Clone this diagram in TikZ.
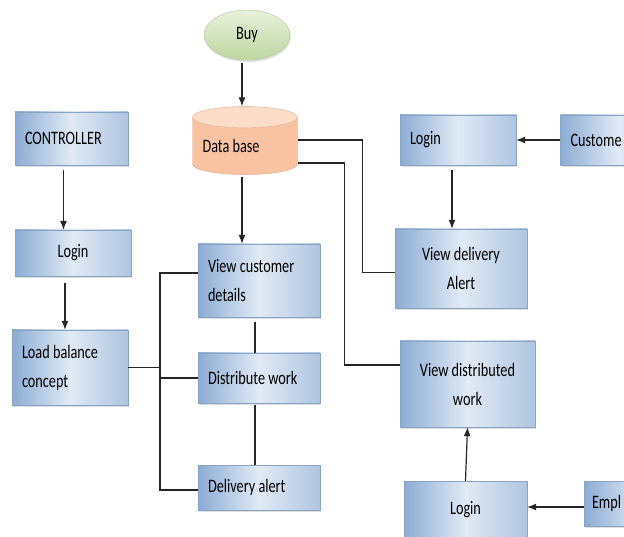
\documentclass[tikz,border=0pt]{standalone}
\usepackage{fontspec}
\setmainfont{Carlito}[FakeStretch=0.75]
\usetikzlibrary{shapes.geometric,shadows,arrows.meta}
\definecolor{boxdark}{RGB}{140,172,212}
\definecolor{boxlight}{RGB}{225,234,245}
\definecolor{dbdark}{RGB}{247,180,140}
\definecolor{dblight}{RGB}{252,222,200}
\definecolor{buydark}{RGB}{190,214,160}
\definecolor{buylight}{RGB}{232,241,220}
\begin{document}
\begin{tikzpicture}[x=1pt, y=-1pt,
    font=\fontsize{19}{29}\selectfont,
    box/.style={rectangle, draw=boxdark!80!gray, thin, left color=boxdark, right color=boxdark!70, middle color=boxlight,
        drop shadow={shadow xshift=1pt, shadow yshift=-2pt, fill=gray!50}, inner sep=0pt},
    link/.style={draw=black!85, line width=1.2pt},
    flow/.style={link, -{Latex[length=9pt, width=7pt]}}]
    \clip (0,0) rectangle (624,537);
    % Buy und Datenbank
    \node[ellipse, draw=buydark!80!gray, thin, top color=buylight, bottom color=buydark,
        drop shadow={shadow xshift=1pt, shadow yshift=-2pt, fill=gray!50},
        minimum width=86pt, minimum height=50pt, inner sep=0pt] (buy) at (247,35) {Buy};
    \node[cylinder, shape border rotate=90, aspect=0.25, draw=dbdark!80!gray, thin,
        cylinder uses custom fill, cylinder body fill=dbdark!80, cylinder end fill=dblight,
        minimum width=105pt, minimum height=68pt, inner sep=0pt,
        text width=85pt, align=flush left] (db) at (245,146) {Data base};
    % linke Spalte
    \node[box, minimum width=113pt, minimum height=53pt, text width=93pt, align=flush left] (controller) at (71.5,138.5) {CONTROLLER};
    \node[box, minimum width=116pt, minimum height=46pt, align=flush center] (loginL) at (73,253) {Login};
    \node[box, minimum width=116pt, minimum height=75pt, text width=96pt, align=flush left] (loadbal) at (70,367.5) {Load balance\\concept};
    % mittlere Spalte
    \node[box, minimum width=122pt, minimum height=73pt, text width=102pt, align=flush left] (viewcust) at (259,280.5) {View customer\\details};
    \node[box, minimum width=122pt, minimum height=50pt, text width=102pt, align=flush left] (distrib) at (259,378) {Distribute work};
    \node[box, minimum width=122pt, minimum height=45pt, text width=102pt, align=flush left] (delalert) at (259,487.5) {Delivery alert};
    % rechte Spalte
    \node[box, minimum width=116pt, minimum height=50pt, text width=96pt, align=flush left] (loginR) at (458,140) {Login};
    \node[box, minimum width=116pt, minimum height=50pt, text width=96pt, align=flush left, xshift=-1.5pt] (customer) at (620,140) {Custome};
    \node[box, minimum width=132pt, minimum height=79pt, align=flush center] (vdelivery) at (461,268.5) {View delivery\\Alert};
    \node[box, minimum width=135pt, minimum height=86pt, align=flush center] (vdistrib) at (467.5,384) {View distributed\\work};
    \node[box, minimum width=123pt, minimum height=58pt, align=flush center] (loginB) at (465.5,510) {Login};
    \node[box, minimum width=116pt, minimum height=45pt, text width=100pt, align=flush left] (employee) at (642,503.5) {Empl};
    % Pfeile
    \draw[flow, shorten <=3pt] ([xshift=-5pt]buy.south) -- ([xshift=-5pt]buy.south |- db.north);
    \draw[flow, shorten <=2pt] ([xshift=-3pt]db.south) -- ([xshift=-3pt]db.south |- viewcust.north);
    \draw[flow, shorten <=5pt] ([xshift=-8pt]controller.south) -- ([xshift=-8pt]controller.south |- loginL.north);
    \draw[flow, shorten <=7pt] ([xshift=-8pt]loginL.south) -- ([xshift=-8pt]loginL.south |- loadbal.north);
    \draw[flow] (customer.west) -- (loginR.east);
    \draw[flow, shorten <=5pt] ([xshift=-6pt]loginR.south) -- ([xshift=-6pt]loginR.south |- vdelivery.north);
    \draw[flow] (loginB.north) -- (vdistrib.south);
    \draw[flow] ([yshift=-3.5pt]employee.west) -- ([yshift=-3.5pt]employee.west -| loginB.east);
    % Datenbank nach rechts
    \draw[link] ([yshift=6pt]db.east) -- ++(65,0) |- ([yshift=-4pt]vdelivery.west);
    \draw[link] ([yshift=-17pt]db.east) -- ++(47,0) |- ([yshift=19pt]vdistrib.west);
    % Sammelschiene links
    \coordinate (bustop) at (160,273);
    \coordinate (busbot) at (160,490);
    \draw[link] ([yshift=7.5pt]viewcust.west) -- (bustop) -- (busbot) -- ([yshift=-2.5pt]delalert.west);
    \draw[link] (loadbal.east) -- (loadbal.east -| bustop);
    \draw[link] (distrib.west) -- (distrib.west -| bustop);
    \draw[link, shorten <=5pt] ([xshift=-4pt]viewcust.south) -- ([xshift=-4pt]viewcust.south |- distrib.north);
    \draw[link, shorten <=2pt] ([xshift=-4pt]distrib.south) -- ([xshift=-4pt]distrib.south |- delalert.north);
\end{tikzpicture}
\end{document}
